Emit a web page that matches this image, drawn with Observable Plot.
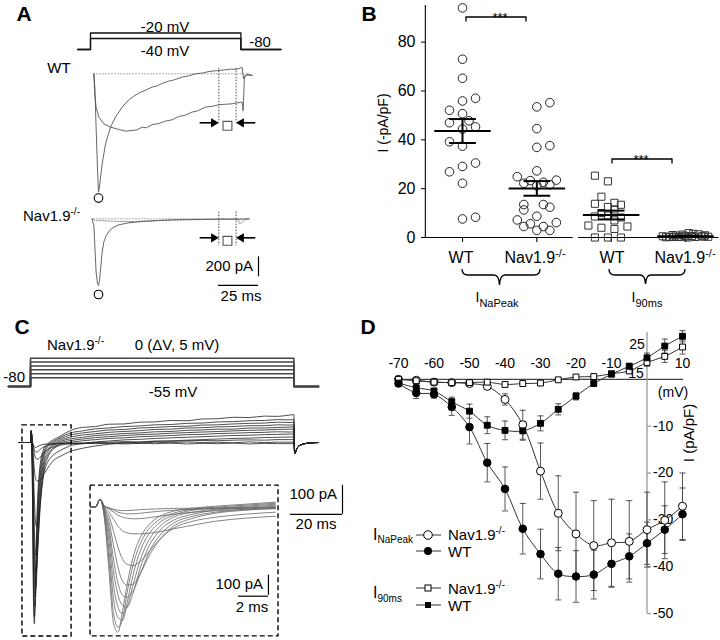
<!DOCTYPE html>
<html>
<head>
<meta charset="utf-8">
<script src="https://cdn.jsdelivr.net/npm/d3@7"></script>
<script src="https://cdn.jsdelivr.net/npm/@observablehq/plot@0.6"></script>
<style>
  html, body { margin: 0; padding: 0; background: #fff; }
  #fig { position: relative; width: 720px; height: 640px; overflow: hidden; background: #fff; }
  #fig > svg { position: absolute; left: 0; top: 0; max-width: none; overflow: visible; }
</style>
</head>
<body>
<div id="fig"></div>
<script>
// ===================== DATA =====================
// ---- Panel A : voltage protocol (mV) and currents (ms, pA)
const aHoldMv = -80;
const aStepMv = [-20, -40];
const aProtoTimes = [-8, 0, 94, 119];           // start, step on, step off, end (ms)
const aWtFast = [[2.1,0],[2.7,-133],[3.5,-533],[4.4,-967],[5.0,-1183],[5.6,-1133],[6.3,-1033],[7.3,-900],[9.4,-700],[12.5,-533],[15.6,-433],[19.8,-333],[23.9,-260],[27,-225],[30.2,-193],[35,-160],[38.5,-133],[42,-118],[45,-95],[49,-73],[52,-62],[57.3,-33],[61,-22],[65.6,0],[70,8],[74,23],[78,30],[84.4,40],[88,47],[91,44],[93.8,60],[94.8,62],[95.6,-50],[96.5,-20],[98,-8],[101,-15]];
const aWtSlow = [[2.1,0],[2.7,-200],[3.5,-333],[5.2,-433],[8.3,-500],[12.5,-533],[17.7,-557],[21.9,-573],[26,-567],[29,-560],[32.3,-533],[35,-540],[38.5,-507],[42,-500],[46.9,-473],[51,-460],[55.2,-427],[59,-415],[63.5,-383],[67,-370],[71.9,-333],[76,-325],[80.2,-310],[84,-305],[88.5,-300],[92,-290],[94.8,-283],[95.4,-370],[96.2,-40],[97.5,-10],[101,-15]];
const aNavFast = [[1.0,0],[2.1,-67],[2.7,-267],[3.5,-533],[4.4,-650],[5.0,-667],[5.6,-617],[6.5,-467],[7.3,-333],[8.3,-233],[9.8,-167],[11.9,-117],[14.6,-83],[17.7,-60],[24,-40],[32.3,-27],[42.7,-17],[55.2,-10],[69.8,-7],[84.4,-3],[95.8,-3],[99,0]];
const aNavSlow = [[1.0,0],[3.1,-17],[9.4,-20],[17.7,-27],[28.1,-27],[38.5,-20],[51,-10],[63.5,-7],[80.2,-3],[92.3,-7],[93.1,-50],[94.4,-40],[95.8,-13],[99,0]];
const aWindow = [80.2, 91];                    // ms, measurement window
const aMarkWt = -490, aMarkNav = -190;          // pA level of arrows
const aBar = {t: 105, ms: 25, pA: 200, top: -380, horiz: -665};

// ---- Panel B : current densities (-pA/pF)
const bGroups = ["WT", "Nav1.9-/-", "WT", "Nav1.9-/-"];
const bYTicks = [0, 20, 40, 60, 80];
const bPeakWt    = [94, 73, 65.2, 55.9, 57, 52.1, 50.7, 47, 47.8, 44.4, 45.3, 39.2, 37.4, 29.1, 30.5, 26.9, 22.2, 7.6, 8.3];
const bPeakWtCol = [0, 0, 0, 0, 2, -2, 0, -2, 1, 0, 2, -2, 0, 0, 2, -2, 0, 0, 2];
const bPeakNav    = [53.5, 55.2, 44.6, 36.9, 37.6, 27.3, 24.9, 22.2, 23.3, 22.6, 21.2, 21.6, 23.5, 13.5, 13.5, 12.4, 11.3, 8.7, 7.2, 4.5, 5.6, 4.5, 6.1, 2.9, 2.9];
const bPeakNavCol = [0, 2, 0, 0, 2, 0, -3, -2, -1, 1, 0, 2, 3, -2, 1, 2, -2, 0, -3, -2, -1, 1, 3, 0, 2];
const bI90Wt    = [25.3, 23, 16.7, 13.8, 14.2, 13.4, 12.5, 11.5, 10, 9, 8.6, 8.2, 7, 4.9, 4, 3.5, 4.5, 0, 0, 0];
const bI90WtCol = [-2.5, -0.5, -1.5, -2.5, 0.5, 1.5, -0.5, 0.5, -1.5, -0.5, -2.5, 1.5, 0.5, -3.5, -1.5, 0.5, 2.5, -2.5, -0.5, 1.5];
const bI90Nav    = [0.5, 0.3, 1.0, 0.8, 0.2, 1.2, 0.4, 1.8, 0.6, 0.2, 1.3, 0.5, 0.9, 0.3, 0.1, 0.7, 0.4, 1.5, 0, 0.2];
const bI90NavCol = [-3.5, -2.5, -2, -1.5, -1, -0.5, 0, 0.5, 1, 1.5, 2, 2.5, 3, 3.5, -3, -0.2, 2.8, 1.2, 0.3, -1.8];
const bMean = [43.6, 20.1, 9.2, 0.5];
const bSem  = [4.9, 3.0, 1.8, 0.2];

// ---- Panel C : protocol and Nav1.9-/- current family (ms, pA)
const cHoldMv = -80;
const cStepMv = [-55, -44, -33, -22, -11, 0];
const cProtoTimes = [-8.5, 0, 101.3, 110.8];
const cTime = [-4.5,-0.3,0,0.3, 0.6,0.9,1.2,1.5,1.8,2.1,2.5,3.0,3.6,4.3,5.2,6.5,8,10,12, 15,20,25,30,36,42,48,54,60,66,72,78,84,90,95,100, 101.3];
const cTraces = [
  [0,0,0,40, -60,-320,-580,-625,-520,-390,-250,-150,-85,-45,-20,-5,5,15,25, 40,52,55,63,64,70,71,76,75,81,82,87,86,91,90,95, 96],
  [0,0,0,40, -50,-270,-530,-600,-560,-430,-290,-180,-105,-60,-30,-10,0,10,20, 32,40,47,50,55,57,61,62,66,67,71,72,75,76,79,78, 80],
  [0,0,0,40, -40,-220,-460,-550,-567,-480,-340,-215,-130,-75,-40,-15,-5,5,15, 25,33,38,43,45,50,52,55,56,60,61,64,66,67,70,69, 70],
  [0,0,0,40, -30,-170,-390,-500,-533,-500,-390,-260,-160,-95,-50,-25,-10,0,10, 18,26,30,35,38,41,45,46,50,51,54,55,58,58,61,60, 61],
  [0,0,0,40, -20,-130,-320,-440,-490,-500,-430,-300,-190,-115,-65,-35,-15,-5,5, 12,18,24,27,31,33,37,38,42,43,46,46,50,50,52,53, 54],
  [0,0,0,40, -15,-100,-260,-380,-440,-450,-420,-330,-220,-140,-80,-45,-25,-10,0, 6,12,17,20,24,27,29,32,34,36,38,40,42,43,45,46, 46],
  [0,0,0,40, -10,-70,-190,-300,-370,-390,-385,-330,-240,-160,-95,-55,-30,-15,-5, 0,6,10,14,16,20,22,24,27,28,31,32,34,35,37,36, 37],
  [0,0,0,40, -5,-45,-120,-200,-260,-285,-292,-270,-220,-160,-105,-70,-50,-35,-25, -12,-4,2,5,9,11,14,16,18,20,22,24,25,27,28,29, 29],
  [0,0,0,40, 0,-25,-60,-95,-118,-128,-133,-133,-130,-122,-108,-90,-70,-55,-45, -32,-20,-12,-6,-2,1,4,6,8,10,12,14,15,17,18,19, 19],
  [0,0,0,40, 5,-10,-25,-40,-50,-55,-58,-57,-52,-45,-35,-25,-18,-12,-8, -5,-3,0,1,3,2,5,4,6,7,6,8,9,8,10,10, 10],
  [0,0,0,40, 5,-5,-15,-25,-30,-33,-33,-30,-25,-20,-15,-10,-8,-5,-3, -2,-4,-1,-3,0,-2,1,-1,2,0,1,-1,2,0,1,1, 1],
  [0,0,0,40, 5,-3,-10,-15,-17,-17,-15,-12,-10,-8,-6,-5,-4,-3,-2, -3,-1,-4,-2,-5,-3,-4,-2,-5,-3,-4,-2,-5,-3,-4,-4, -4]
];
const cTailT = [101.6, 102.5, 104, 107, 110.8];
const cTailI = [-38, -20, -8, -2, 0];
const cMainBox  = {t1: -3.1, t2: 15.8, i1: -669, i2: 59};
const cInsetBox = {t1: -0.33, t2: 12.2, i1: -646, i2: 108};
const cMainBar  = {t: 120, ms: 20, pA: 100, top: -148};
const cInsetBar = {t: 11.53, ms: 2, pA: 100, top: -340};

// ---- Panel D : I-V relationships (mV, pA/pF)
const dVoltage   = [-70,-65,-60,-55,-50,-45,-40,-35,-30,-25,-20,-15,-10,-5,0,5,10];
const dPeakNav    = [0,-0.2,-0.6,-0.7,-0.9,-1.5,-4.3,-9.7,-19.6,-28.6,-33,-35.5,-34.9,-34.6,-32.1,-30.1,-27.1];
const dPeakNavSem = [0,0,0,0,0.3,0.5,1.2,3.1,6,8,8.9,9.6,9.3,8.7,8,8.2,7.1];
const dPeakWt     = [-0.9,-2.9,-3.2,-5.9,-10.2,-17.8,-23.4,-31.9,-37.3,-41.5,-42.1,-41.7,-39.4,-37.8,-35,-32.1,-28.8];
const dPeakWtSem  = [0.3,1.2,0.8,1.8,3.6,4.1,4.7,5.4,5.3,5.6,5.5,5.2,5,4.8,4.5,5.1,5.6];
const d90Nav      = [0,-0.3,-0.6,-0.7,-0.7,-0.6,-1.1,-0.9,-0.8,-0.1,0.5,0.6,1.2,1.8,3.6,4.9,6.9];
const d90NavSem   = [0,0,0,0,0,0,0.2,0.2,0.2,0.2,0.3,0.3,0.4,0.5,0.8,1.3,1.5];
const d90Wt       = [-0.8,-1.8,-2.5,-4.8,-6.8,-9.8,-10.9,-11,-9.4,-6.4,-3.6,-0.9,1.1,2.8,4.6,7.1,9.2];
const d90WtSem    = [0.2,0.8,0.6,1,1.5,1.8,2,2,1.6,1.2,0.8,0.5,0.5,0.6,1,1.5,1.2];
const dXTicks = [-70,-60,-50,-40,-30,-20,-10,10];
const dYTicks = [-10,-20,-30,-40,-50];

// ===================== HELPERS =====================
const FONT = '"Liberation Sans", Arial, Helvetica, sans-serif';
const fig = document.getElementById("fig");
function mount(svg, left = 0, top = 0) {
  svg.style.position = "absolute";
  svg.style.left = left + "px";
  svg.style.top = top + "px";
  svg.style.background = "transparent";
  svg.style.overflow = "visible";
  svg.style.maxWidth = "none";
  fig.appendChild(svg);
}
function layer(x, y, marks) {
  return Plot.plot({
    width: 720, height: 640, margin: 0,
    style: {fontFamily: FONT, background: "transparent", overflow: "visible"},
    x: {...x, axis: null}, y: {...y, axis: null},
    marks
  });
}
function protocolRows(times, hold, levels) {
  const [t0, on, off, t1] = times;
  return levels.flatMap(v => [[t0, hold], [on, hold], [on, v], [off, v], [off, hold], [t1, hold]]
    .map(([t, mv]) => ({t, mv, level: v})));
}
const pairs = (arr, k) => arr.map(([t, i]) => ({t, i, k}));
const minPt = arr => arr.reduce((a, b) => (b[1] < a[1] ? b : a));

// ===================== PANEL A =====================
const aX = {domain: [0, 100], range: [90, 250]};
mount(layer(aX, {domain: [-80, -20], range: [49, 32.5]}, [
  Plot.line(protocolRows(aProtoTimes, aHoldMv, aStepMv), {x: "t", y: "mv", z: "level", stroke: "#111", strokeWidth: 1.3})
]));

function arrowRows(level) {
  return [
    {x1: aWindow[0] - 12, hx: aWindow[0] - 3.2, dir: 90, y: level},
    {x1: aWindow[1] + 12, hx: aWindow[1] + 3.2, dir: -90, y: level}
  ];
}
function windowMarks(level, top, bottom, peak, peakDy) {
  const rows = arrowRows(level);
  return [
    Plot.ruleY([0], {x1: () => 2, x2: () => 100, stroke: "#888", strokeWidth: 0.9, strokeDasharray: "1.5,1.5"}),
    Plot.ruleX(aWindow, {y1: () => top, y2: () => bottom, stroke: "#333", strokeWidth: 0.9, strokeDasharray: "1.5,1.5"}),
    Plot.link(rows, {x1: "x1", x2: "hx", y1: "y", y2: "y", stroke: "#000", strokeWidth: 1.6}),
    Plot.dot(rows, {x: "hx", y: "y", symbol: "triangle", rotate: "dir", r: 3.4, fill: "#000", stroke: "none"}),
    Plot.dot([{t: (aWindow[0] + aWindow[1]) / 2, i: level}], {x: "t", y: "i", symbol: "square", r: 5, stroke: "#555", strokeWidth: 1.1, fill: "white", dy: 3}),
    Plot.dot([peak], {x: d => d[0], y: d => d[1], r: 4.3, stroke: "#000", strokeWidth: 1.1, fill: "white", dy: peakDy})
  ];
}
mount(layer(aX, {domain: [-1300, 100], range: [203.3, 63.3]}, [
  ...windowMarks(aMarkWt, 55, -490, minPt(aWtFast), 6),
  Plot.line([...pairs(aWtFast, "fast"), ...pairs(aWtSlow, "slow")], {x: "t", y: "i", z: "k", stroke: "#555", strokeWidth: 0.9})
]));
mount(layer(aX, {domain: [-1000, 100], range: [318.3, 208.3]}, [
  ...windowMarks(aMarkNav, 67, -270, minPt(aNavFast), 9),
  Plot.line(pairs(aNavSlow, "slow"), {x: "t", y: "i", stroke: "#999", strokeWidth: 0.9}),
  Plot.line(pairs(aNavFast, "fast"), {x: "t", y: "i", stroke: "#555", strokeWidth: 0.9}),
  Plot.ruleX([aBar.t], {y1: () => aBar.top, y2: () => aBar.top - aBar.pA, stroke: "#000", strokeWidth: 1.2}),
  Plot.ruleY([aBar.horiz], {x1: () => aBar.t - aBar.ms, x2: () => aBar.t, stroke: "#000", strokeWidth: 1.2})
]));

// ===================== PANEL B =====================
const colUnit = 0.0875;
const bCircles = [
  ...bPeakWt.map((v, i) => ({g: 0, v, c: bPeakWtCol[i]})),
  ...bPeakNav.map((v, i) => ({g: 1, v, c: bPeakNavCol[i]}))
];
const bSquares = [
  ...bI90Wt.map((v, i) => ({g: 2, v, c: bI90WtCol[i]})),
  ...bI90Nav.map((v, i) => ({g: 3, v, c: bI90NavCol[i]}))
];
const bSummary = bMean.map((m, g) => ({g, m, s: bSem[g]}));
const bAxisSegments = [{x1: -0.5, x2: 1.49}, {x1: 1.56, x2: 3.45}];
mount(Plot.plot({
  width: 362, height: 320, marginLeft: 65, marginTop: 5, marginBottom: 83, marginRight: 0,
  style: {fontFamily: FONT, fontSize: "16px", background: "transparent", overflow: "visible"},
  x: {domain: [0, 3], range: [102, 325], axis: null},
  y: {domain: [0, 95], axis: null},
  marks: [
    Plot.axisY({ticks: bYTicks, tickSize: 4, tickPadding: 6, fontSize: 16, label: null, anchor: "left"}),
    Plot.ruleX([-0.5], {y1: () => 0, y2: () => 95, stroke: "#000", strokeWidth: 1.1}),
    Plot.ruleY(bAxisSegments, {x1: "x1", x2: "x2", y: () => 0, stroke: "#000", strokeWidth: 1.1}),
    Plot.ruleX([0, 1, 2, 3], {y1: () => 0, y2: () => -2, stroke: "#000", strokeWidth: 1.1}),
    Plot.dot(bCircles, {x: d => d.g + d.c * colUnit, y: "v", r: 4.3, stroke: "#222", strokeWidth: 1, fill: "none"}),
    Plot.dot(bSquares, {x: d => d.g + d.c * colUnit, y: "v", symbol: "square", r: 4, stroke: "#333", strokeWidth: 1, fill: "none"}),
    Plot.link(bSummary, {x1: d => d.g - 0.38, x2: d => d.g + 0.38, y1: "m", y2: "m", stroke: "#000", strokeWidth: 2}),
    Plot.link(bSummary, {x1: "g", x2: "g", y1: d => d.m - d.s, y2: d => d.m + d.s, stroke: "#000", strokeWidth: 2}),
    Plot.link(bSummary, {x1: d => d.g - 0.18, x2: d => d.g + 0.18, y1: d => d.m + d.s, y2: d => d.m + d.s, stroke: "#000", strokeWidth: 2}),
    Plot.link(bSummary, {x1: d => d.g - 0.18, x2: d => d.g + 0.18, y1: d => d.m - d.s, y2: d => d.m - d.s, stroke: "#000", strokeWidth: 2})
  ]
}), 360, 0);

// ===================== PANEL C =====================
const cX = {domain: [0, 100], range: [30, 290]};
mount(layer(cX, {domain: [-80, 0], range: [386, 357.7]}, [
  Plot.line(protocolRows(cProtoTimes, cHoldMv, cStepMv), {x: "t", y: "mv", z: "level", stroke: "#444", strokeWidth: 1.5})
]));
const cRows = cTraces.flatMap((tr, k) => tr.map((i, j) => ({t: cTime[j], i, k})));
const cMainRows = cTraces.flatMap((tr, k) => [
  ...tr.map((i, j) => ({t: cTime[j], i, k})),
  ...cTailT.map((t, j) => ({t, i: cTailI[j], k}))
]);
mount(layer(cX, {domain: [-700, 100], range: [645, 413]}, [
  Plot.line(cMainRows, {x: "t", y: "i", z: "k", stroke: "#222", strokeWidth: 0.8, curve: "monotone-x"}),
  Plot.rect([cMainBox], {x1: "t1", x2: "t2", y1: "i1", y2: "i2", fill: "none", stroke: "#000", strokeWidth: 1.4, strokeDasharray: "5,3"}),
  Plot.ruleX([cMainBar.t], {y1: () => cMainBar.top, y2: () => cMainBar.top - cMainBar.pA, stroke: "#000", strokeWidth: 1.2}),
  Plot.ruleY([cMainBar.top - cMainBar.pA], {x1: () => cMainBar.t - cMainBar.ms, x2: () => cMainBar.t, stroke: "#000", strokeWidth: 1.2})
]));
mount(layer({domain: [0, 12], range: [95, 275]}, {domain: [-700, 100], range: [646.7, 486.7]}, [
  Plot.line(cRows.filter(d => d.t >= -0.3 && d.t <= 12), {x: "t", y: "i", z: "k", stroke: "#666", strokeWidth: 0.8, curve: "monotone-x"}),
  Plot.rect([cInsetBox], {x1: "t1", x2: "t2", y1: "i1", y2: "i2", fill: "none", stroke: "#000", strokeWidth: 1.4, strokeDasharray: "5,3"}),
  Plot.ruleX([cInsetBar.t], {y1: () => cInsetBar.top, y2: () => cInsetBar.top - cInsetBar.pA, stroke: "#000", strokeWidth: 1.2}),
  Plot.ruleY([cInsetBar.top - cInsetBar.pA - 5], {x1: () => cInsetBar.t - cInsetBar.ms, x2: () => cInsetBar.t, stroke: "#000", strokeWidth: 1.2})
]));

// ===================== PANEL D =====================
const dSeries = [
  {key: "peakNav", v: dPeakNav, e: dPeakNavSem, symbol: "circle", fill: "white", r: 4},
  {key: "peakWt",  v: dPeakWt,  e: dPeakWtSem,  symbol: "circle", fill: "#000", r: 3.8},
  {key: "i90Nav",  v: d90Nav,   e: d90NavSem,   symbol: "square", fill: "white", r: 3.3},
  {key: "i90Wt",   v: d90Wt,    e: d90WtSem,    symbol: "square", fill: "#000", r: 3.3}
];
const dRows = dSeries.flatMap(s => dVoltage.map((mv, i) => ({key: s.key, mv, m: s.v[i], e: s.e[i]})));
const dErr = dRows.filter(d => d.e > 0.4);
const dCaps = dErr.flatMap(d => [{mv: d.mv, y: d.m + d.e}, {mv: d.mv, y: d.m - d.e}]);
mount(layer({domain: [-70, 10], range: [398, 682]}, {domain: [-50, 10], range: [613, 332]}, [
  Plot.ruleY([0], {x1: () => -71, x2: () => 10.3, stroke: "#444", strokeWidth: 1.1}),
  Plot.ruleX([0], {y1: () => -50, y2: () => 10, stroke: "#999", strokeWidth: 1.3}),
  Plot.link(dYTicks, {x1: () => 0, x2: () => 1.2, y1: d => d, y2: d => d, stroke: "#999", strokeWidth: 1.2}),
  Plot.text(dXTicks, {x: d => d, y: () => 0, dy: -16, text: d => String(d), fontSize: 14, fill: "#000"}),
  Plot.text(dYTicks, {x: () => 0, y: d => d, dx: 6, text: d => String(d), fontSize: 14, textAnchor: "start", fill: "#000"}),
  Plot.ruleX(dErr, {x: "mv", y1: d => d.m - d.e, y2: d => d.m + d.e, stroke: "#444", strokeWidth: 0.9}),
  Plot.link(dCaps, {x1: d => d.mv - 0.85, x2: d => d.mv + 0.85, y1: "y", y2: "y", stroke: "#444", strokeWidth: 0.9}),
  Plot.line(dRows, {x: "mv", y: "m", z: "key", curve: "catmull-rom", stroke: "#333", strokeWidth: 1}),
  ...dSeries.map(s => Plot.dot(dRows.filter(d => d.key === s.key), {x: "mv", y: "m", symbol: s.symbol, r: s.r, fill: s.fill, stroke: "#000", strokeWidth: 1}))
]));

// ===================== ANNOTATIONS (text, braces, legend) =====================
const NS = (s) => `Nav1.9<tspan dy="-6" font-size="${Math.round(s * 0.66)}">-/-</tspan>`;
function txt(x, y, size, content, anchor = "middle", extra = "") {
  return `<text x="${x}" y="${y}" font-size="${size}" text-anchor="${anchor}" ${extra}>${content}</text>`;
}
const ov = `
<svg xmlns="http://www.w3.org/2000/svg" width="720" height="640" font-family='${FONT}' fill="#000">
  ${txt(24, 20.5, 21, "A", "middle", 'font-weight="bold"')}
  ${txt(369, 20.5, 21, "B", "middle", 'font-weight="bold"')}
  ${txt(22, 334, 21, "C", "middle", 'font-weight="bold"')}
  ${txt(368, 334, 21, "D", "middle", 'font-weight="bold"')}

  ${txt(165, 32.4, 15, "-20 mV")}
  ${txt(165, 56.4, 15, "-40 mV")}
  ${txt(260, 47.4, 15, "-80")}
  ${txt(59, 73.4, 15, "WT")}
  ${txt(23, 221.4, 15, NS(15), "start")}
  ${txt(253, 271, 15, "200 pA", "end")}
  ${txt(241, 300.5, 15, "25 ms")}

  <path d="M466,21.5 V17 H526 V21.5" fill="none" stroke="#000" stroke-width="1.3"/>
  ${txt(500, 22, 13, "***")}
  <path d="M612,163.5 V159 H672 V163.5" fill="none" stroke="#000" stroke-width="1.3"/>
  ${txt(641, 164, 13, "***")}
  ${txt(461, 262.8, 16, "WT")}
  ${txt(535, 262.8, 16, NS(16))}
  ${txt(612, 262.8, 16, "WT")}
  ${txt(685, 262.8, 16, NS(16))}
  <path d="M462,269 Q462,275 468,275 H494 Q499,275 499.5,285 Q500,275 505,275 H534 Q540,275 540,269" fill="none" stroke="#000" stroke-width="1.3"/>
  <path d="M609,269 Q609,275 615,275 H640 Q645,275 645.5,284 Q646,275 651,275 H679 Q685,275 685,269" fill="none" stroke="#000" stroke-width="1.3"/>
  ${txt(497, 302, 14, 'I<tspan dy="5" font-size="11">NaPeak</tspan>')}
  ${txt(647, 302, 14, 'I<tspan dy="5" font-size="11">90ms</tspan>')}
  <text transform="translate(388,123) rotate(-90)" font-size="14" text-anchor="middle">I (-pA/pF)</text>

  ${txt(25, 382.4, 15, "-80", "end")}
  ${txt(47, 350.4, 15, NS(15), "start")}
  ${txt(177, 350.4, 15, "0 (ΔV, 5 mV)")}
  ${txt(173, 397.4, 15, "-55 mV")}
  ${txt(337, 499.4, 15, "100 pA", "end")}
  ${txt(316, 528.9, 15, "20 ms")}
  ${txt(263, 589.4, 15, "100 pA", "end")}
  ${txt(252, 612.4, 15, "2 ms")}

  ${txt(673, 397, 14, "(mV)")}
  ${txt(637, 349, 14, "25")}
  ${txt(636, 377.5, 14, "15")}
  <text transform="translate(693.5,433) rotate(-90)" font-size="15" text-anchor="middle">I (pA/pF)</text>

  ${txt(373, 540, 16, 'I<tspan dy="3" font-size="10">NaPeak</tspan>', "start")}
  <line x1="416" x2="441" y1="535" y2="535" stroke="#333" stroke-width="1"/>
  <circle cx="428" cy="535" r="4.3" fill="#fff" stroke="#000" stroke-width="1"/>
  ${txt(448, 540, 15, NS(15), "start")}
  <line x1="416" x2="441" y1="551" y2="551" stroke="#333" stroke-width="1"/>
  <circle cx="428" cy="551" r="4" fill="#000"/>
  ${txt(448, 557, 15, "WT", "start")}
  ${txt(373, 598, 16, 'I<tspan dy="4" font-size="10">90ms</tspan>', "start")}
  <line x1="416" x2="441" y1="588" y2="588" stroke="#333" stroke-width="1"/>
  <rect x="425" y="585" width="6" height="6" fill="#fff" stroke="#000" stroke-width="1"/>
  ${txt(448, 593.5, 15, NS(15), "start")}
  <line x1="416" x2="441" y1="605" y2="605" stroke="#333" stroke-width="1"/>
  <rect x="425" y="602" width="6" height="6" fill="#000"/>
  ${txt(448, 611, 15, "WT", "start")}
</svg>`;
fig.insertAdjacentHTML("beforeend", ov);
</script>
</body>
</html>
